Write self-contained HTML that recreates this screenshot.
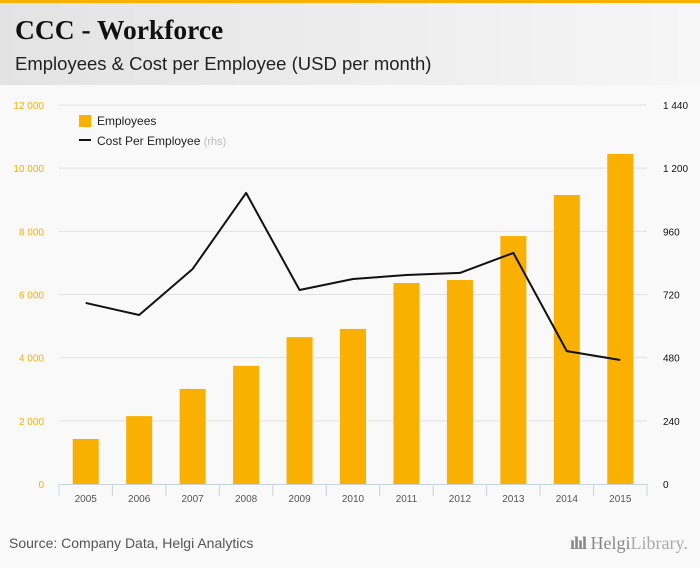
<!DOCTYPE html>
<html><head><meta charset="utf-8"><style>
body{margin:0;width:700px;height:568px;background:#f9f9f9;font-family:"Liberation Sans",sans-serif;overflow:hidden;position:relative}
#top{position:absolute;left:0;top:0;width:700px;height:3px;background:#f9b000}
#hdr{position:absolute;left:0;top:3px;width:700px;height:82px;background:linear-gradient(90deg,#e3e3e3,#f6f6f6)}
#title{position:absolute;left:15px;top:14px;font-family:"Liberation Serif",serif;font-weight:bold;font-size:27.5px;color:#111}
#sub{position:absolute;left:15px;top:53px;font-size:18.5px;color:#222}
#src{position:absolute;left:9px;top:535px;font-size:14px;color:#555}
#logo{position:absolute;left:570px;top:533px;font-size:18px;color:#888;font-family:"Liberation Serif",serif}
svg{position:absolute;left:0;top:0}
</style></head><body>
<div id="top"></div>
<div id="hdr"></div>
<div id="title">CCC - Workforce</div>
<div id="sub">Employees &amp; Cost per Employee (USD per month)</div>
<div id="src">Source: Company Data, Helgi Analytics</div>
<div id="logo"><b style="letter-spacing:-1px">ılıl</b> Helgi<span style="color:#aaa">Library.</span></div>
<svg id="chart" width="700" height="568"></svg>
<script>
const categories=["2005","2006","2007","2008","2009","2010","2011","2012","2013","2014","2015"];
const employees=[1425,2150,3010,3740,4650,4910,6365,6460,7850,9150,10450];
const costPerEmployee=[688,642,817,1106,737,779,794,802,878,505,471];
const leftTicks=[0,2000,4000,6000,8000,10000,12000];
const rightTicks=[0,240,480,720,960,1200,1440];
const NS="http://www.w3.org/2000/svg";
const svg=document.getElementById('chart');
const X0=59,X1=647,Y0=484,Y1=105;
const band=(X1-X0)/categories.length;
const xc=i=>X0+band*(i+0.5);
const yL=v=>Y0-(v/12000)*(Y0-Y1);
const yR=v=>Y0-(v/1440)*(Y0-Y1);
function mk(t,a,txt){const e=document.createElementNS(NS,t);for(const k in a)e.setAttribute(k,a[k]);if(txt!=null)e.textContent=txt;svg.appendChild(e);return e;}
const fmt=v=>String(v).replace(/\B(?=(\d{3})+(?!\d))/g," ");
leftTicks.forEach((v,i)=>{
  if(v>0){const g=mk('line',{x1:X0,x2:X1,y1:yL(v),y2:yL(v),stroke:'#e2e2e2','stroke-width':1});
  
  }
  const t=mk('text',{x:44,y:yL(v)+4,'text-anchor':'end','font-size':10,fill:'#f9b000'},fmt(v));
  
  
});
rightTicks.forEach(v=>{
  const t=mk('text',{x:663,y:yR(v)+4,'font-size':10,fill:'#111'},fmt(v));
  
  
});
employees.forEach((v,i)=>{
  const r=mk('rect',{x:xc(i)-13,y:yL(v),width:26,height:Y0-yL(v),fill:'#f9b000'});
  
  
});
const ax=mk('line',{x1:X0,x2:X1,y1:Y0+0.5,y2:Y0+0.5,stroke:'#c8d2e0','stroke-width':1});


for(let i=0;i<=categories.length;i++){
  const tk=mk('line',{x1:X0+band*i,x2:X0+band*i,y1:Y0,y2:Y0+12,stroke:'#c8d2e0','stroke-width':1});
  
  
}
categories.forEach((c,i)=>{
  const t=mk('text',{x:xc(i),y:Y0+18,'text-anchor':'middle','font-size':10,fill:'#555'},c);
  
  
});
const ln=mk('polyline',{points:costPerEmployee.map((v,i)=>xc(i)+','+yR(v)).join(' '),fill:'none',stroke:'#111','stroke-width':2,'stroke-linejoin':'round'});


const l1=mk('rect',{x:79,y:115,width:12,height:12,fill:'#f9b000'});


const lt1=mk('text',{x:97,y:125,'font-size':12,fill:'#222'},'Employees');


const l2=mk('line',{x1:79,x2:91,y1:140,y2:140,stroke:'#111','stroke-width':2});


const lt2=mk('text',{x:97,y:145,'font-size':12,fill:'#222'},'Cost Per Employee ');


const ts=document.createElementNS(NS,'tspan');ts.setAttribute('fill','#bbb');ts.setAttribute('font-size','11');ts.textContent='(rhs)';lt2.appendChild(ts);
</script>
</body></html>
